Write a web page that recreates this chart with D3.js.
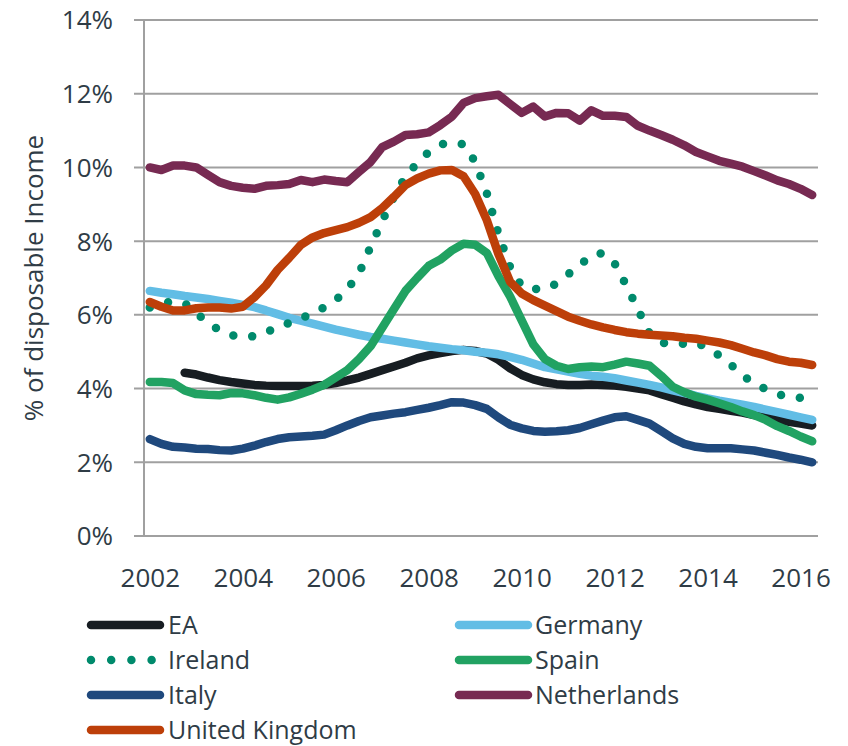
<!DOCTYPE html>
<html>
<head>
<meta charset="utf-8">
<script src="https://cdn.jsdelivr.net/npm/d3@7"></script>
<style>
  html, body { margin: 0; padding: 0; background: #ffffff; }
  svg { display: block; }
  text { font-family: "Open Sans", "DejaVu Sans", sans-serif; fill: #2f3c46; }
</style>
</head>
<body>
<svg id="chart" width="848" height="746"></svg>
<script>
// ---- Data (quarterly, 2002Q1 .. 2016Q2), % of disposable income ----
const years = d3.range(2002, 2017);
const quarters = [];
years.forEach(y => [1, 2, 3, 4].forEach(q => { if (quarters.length < 58) quarters.push(y + "Q" + q); }));

const tickLabels = ["2002", "2004", "2006", "2008", "2010", "2012", "2014", "2016"];
const yTicks = [0, 2, 4, 6, 8, 10, 12, 14];

const EA = [null, null, null, 4.43, 4.38, 4.3, 4.23, 4.18, 4.14, 4.1, 4.08, 4.07, 4.07, 4.07, 4.08, 4.1,
  4.15, 4.22, 4.3, 4.4, 4.5, 4.6, 4.7, 4.82, 4.9, 4.96, 5.02, 5.05, 5.02, 4.95, 4.78, 4.55,
  4.37, 4.25, 4.17, 4.12, 4.1, 4.1, 4.11, 4.1, 4.08, 4.05, 4.0, 3.95, 3.85, 3.75, 3.65, 3.57,
  3.5, 3.45, 3.4, 3.35, 3.28, 3.22, 3.15, 3.1, 3.05, 3.0];

const Germany = [6.65, 6.6, 6.56, 6.51, 6.47, 6.43, 6.38, 6.33, 6.27, 6.21, 6.12, 6.02, 5.92, 5.84, 5.76, 5.68,
  5.6, 5.53, 5.46, 5.4, 5.35, 5.3, 5.25, 5.2, 5.15, 5.11, 5.07, 5.04, 5.0, 4.97, 4.93, 4.86,
  4.78, 4.68, 4.58, 4.52, 4.46, 4.4, 4.35, 4.32, 4.28, 4.22, 4.16, 4.1, 4.03, 3.95, 3.88, 3.8,
  3.73, 3.67, 3.62, 3.56, 3.5, 3.43, 3.36, 3.29, 3.22, 3.15];

const Ireland = [6.2, 6.3, 6.37, 6.32, 6.05, 5.78, 5.58, 5.45, 5.4, 5.42, 5.52, 5.68, 5.78, 5.9, 6.05, 6.2,
  6.4, 6.7, 7.12, 7.85, 8.55, 9.2, 9.75, 10.12, 10.42, 10.62, 10.68, 10.63, 10.15, 9.3, 8.2, 7.3,
  6.78, 6.7, 6.7, 6.85, 7.1, 7.35, 7.62, 7.68, 7.4, 6.8, 6.15, 5.5, 5.25, 5.2, 5.22, 5.25,
  5.1, 4.9, 4.65, 4.35, 4.15, 3.98, 3.85, 3.78, 3.75, null];

const Spain = [4.18, 4.18, 4.15, 3.95, 3.85, 3.83, 3.82, 3.88, 3.87, 3.82, 3.75, 3.7, 3.76, 3.86, 3.97, 4.1,
  4.3, 4.5, 4.8, 5.15, 5.65, 6.15, 6.65, 7.0, 7.33, 7.5, 7.75, 7.93, 7.9, 7.68, 7.05, 6.5,
  5.85, 5.2, 4.8, 4.62, 4.53, 4.58, 4.6, 4.58, 4.65, 4.73, 4.68, 4.62, 4.35, 4.05, 3.9, 3.78,
  3.7, 3.6, 3.5, 3.38, 3.28, 3.15, 2.98, 2.85, 2.7, 2.57];

const Italy = [2.63, 2.5, 2.42, 2.4, 2.37, 2.36, 2.33, 2.32, 2.37, 2.45, 2.55, 2.63, 2.68, 2.7, 2.72, 2.75,
  2.87, 3.0, 3.12, 3.22, 3.27, 3.32, 3.36, 3.42, 3.48, 3.55, 3.63, 3.62, 3.55, 3.45, 3.22, 3.02,
  2.92, 2.85, 2.83, 2.84, 2.87, 2.93, 3.03, 3.13, 3.22, 3.25, 3.15, 3.05, 2.85, 2.65, 2.5, 2.42,
  2.38, 2.38, 2.38, 2.35, 2.32, 2.26, 2.2, 2.13, 2.07, 2.0];

const Netherlands = [10.0, 9.93, 10.05, 10.05, 10.0, 9.8, 9.6, 9.5, 9.45, 9.42, 9.5, 9.52, 9.55, 9.66, 9.6, 9.67,
  9.63, 9.6, 9.88, 10.15, 10.55, 10.7, 10.88, 10.9, 10.95, 11.15, 11.38, 11.75, 11.88, 11.93, 11.97, 11.72,
  11.48, 11.65, 11.38, 11.48, 11.47, 11.27, 11.55, 11.4, 11.4, 11.37, 11.13, 11.0, 10.88, 10.75, 10.6, 10.42,
  10.3, 10.18, 10.1, 10.02, 9.9, 9.78, 9.65, 9.55, 9.42, 9.25];

const UK = [6.35, 6.22, 6.12, 6.12, 6.18, 6.2, 6.2, 6.17, 6.22, 6.48, 6.8, 7.22, 7.55, 7.9, 8.1, 8.22,
  8.3, 8.38, 8.5, 8.65, 8.9, 9.2, 9.52, 9.7, 9.83, 9.92, 9.93, 9.76, 9.28, 8.57, 7.65, 6.9,
  6.58, 6.4, 6.25, 6.1, 5.95, 5.84, 5.74, 5.66, 5.59, 5.53, 5.49, 5.46, 5.44, 5.42, 5.38, 5.35,
  5.3, 5.25, 5.18, 5.08, 4.98, 4.9, 4.8, 4.73, 4.7, 4.64];

const seriesNames = ["EA", "Germany", "Ireland", "Spain", "Italy", "Netherlands", "United Kingdom"];
const seriesValues = [EA, Germany, Ireland, Spain, Italy, Netherlands, UK];
const seriesColors = ["#171d22", "#62bde5", "#008a6c", "#21a262", "#1f497d", "#772a52", "#bd3f09"];
const seriesDotted = [false, false, true, false, false, false, false];

// ---- Layout ----
const svg = d3.select("#chart");
const plot = { left: 144, right: 818, top: 20, bottom: 536 };
const lineW = 8.5;

const x = d3.scalePoint().domain(quarters).range([plot.left, plot.right]).padding(0.5);
const y = d3.scaleLinear().domain([0, 14]).range([plot.bottom, plot.top]);

// gridlines + y ticks (extend left as tick marks)
const grid = svg.append("g");
grid.selectAll("line.grid").data(yTicks).join("line")
  .attr("x1", plot.left - 10).attr("x2", plot.right)
  .attr("y1", d => y(d)).attr("y2", d => y(d))
  .attr("stroke", "#a0a0a0").attr("stroke-width", 2);

// y axis line
svg.append("line")
  .attr("x1", plot.left).attr("x2", plot.left)
  .attr("y1", plot.top).attr("y2", plot.bottom)
  .attr("stroke", "#a0a0a0").attr("stroke-width", 2);

// y tick labels
svg.append("g").selectAll("text").data(yTicks).join("text")
  .attr("x", 113).attr("y", d => y(d))
  .attr("dy", "0.36em")
  .attr("text-anchor", "end")
  .attr("font-size", 26)
  .text(d => d + "%");

// x axis tick labels
const xAxis = d3.axisBottom(x)
  .tickValues(quarters.filter(q => tickLabels.includes(q.slice(0, 4)) && q.endsWith("Q1")))
  .tickFormat(q => q.slice(0, 4))
  .tickSize(0).tickPadding(0);
const gx = svg.append("g").attr("transform", `translate(0,${plot.bottom})`).call(xAxis);
gx.select(".domain").remove();
gx.selectAll("text")
  .attr("font-size", 26)
  .attr("font-family", "Open Sans")
  .attr("fill", "#2f3c46")
  .attr("y", 51).attr("dy", 0);

// y axis title
svg.append("text")
  .attr("transform", `translate(43,${(plot.top + plot.bottom) / 2}) rotate(-90)`)
  .attr("text-anchor", "middle")
  .attr("font-size", 26)
  .text("% of disposable Income");

// lines
const line = d3.line()
  .defined(d => d.v != null)
  .x(d => x(d.q))
  .y(d => y(d.v));

seriesValues.forEach((vals, si) => {
  const data = vals.map((v, i) => ({ q: quarters[i], v }));
  const p = svg.append("path")
    .datum(data)
    .attr("d", line)
    .attr("fill", "none")
    .attr("stroke", seriesColors[si])
    .attr("stroke-width", lineW)
    .attr("stroke-linecap", "round")
    .attr("stroke-linejoin", "round");
  if (seriesDotted[si]) p.attr("stroke-dasharray", "0 19");
});

// legend
const legendRows = [625, 660, 695, 730];
const legendItems = [
  { s: 0, col: 0, row: 0 }, { s: 1, col: 1, row: 0 },
  { s: 2, col: 0, row: 1 }, { s: 3, col: 1, row: 1 },
  { s: 4, col: 0, row: 2 }, { s: 5, col: 1, row: 2 },
  { s: 6, col: 0, row: 3 }
];
const colX = [{ x1: 91, x2: 160, tx: 168 }, { x1: 459, x2: 528, tx: 535 }];
const lg = svg.append("g");
legendItems.forEach(it => {
  const c = colX[it.col];
  const yy = legendRows[it.row];
  const l = lg.append("line")
    .attr("x1", c.x1).attr("x2", c.x2 - (seriesDotted[it.s] ? 8 : 0))
    .attr("y1", yy).attr("y2", yy)
    .attr("stroke", seriesColors[it.s])
    .attr("stroke-width", lineW)
    .attr("stroke-linecap", "round");
  if (seriesDotted[it.s]) l.attr("stroke-dasharray", "0 20.2");
  lg.append("text")
    .attr("x", c.tx).attr("y", yy)
    .attr("dy", "0.36em")
    .attr("font-size", 25)
    .text(seriesNames[it.s]);
});
</script>
</body>
</html>
